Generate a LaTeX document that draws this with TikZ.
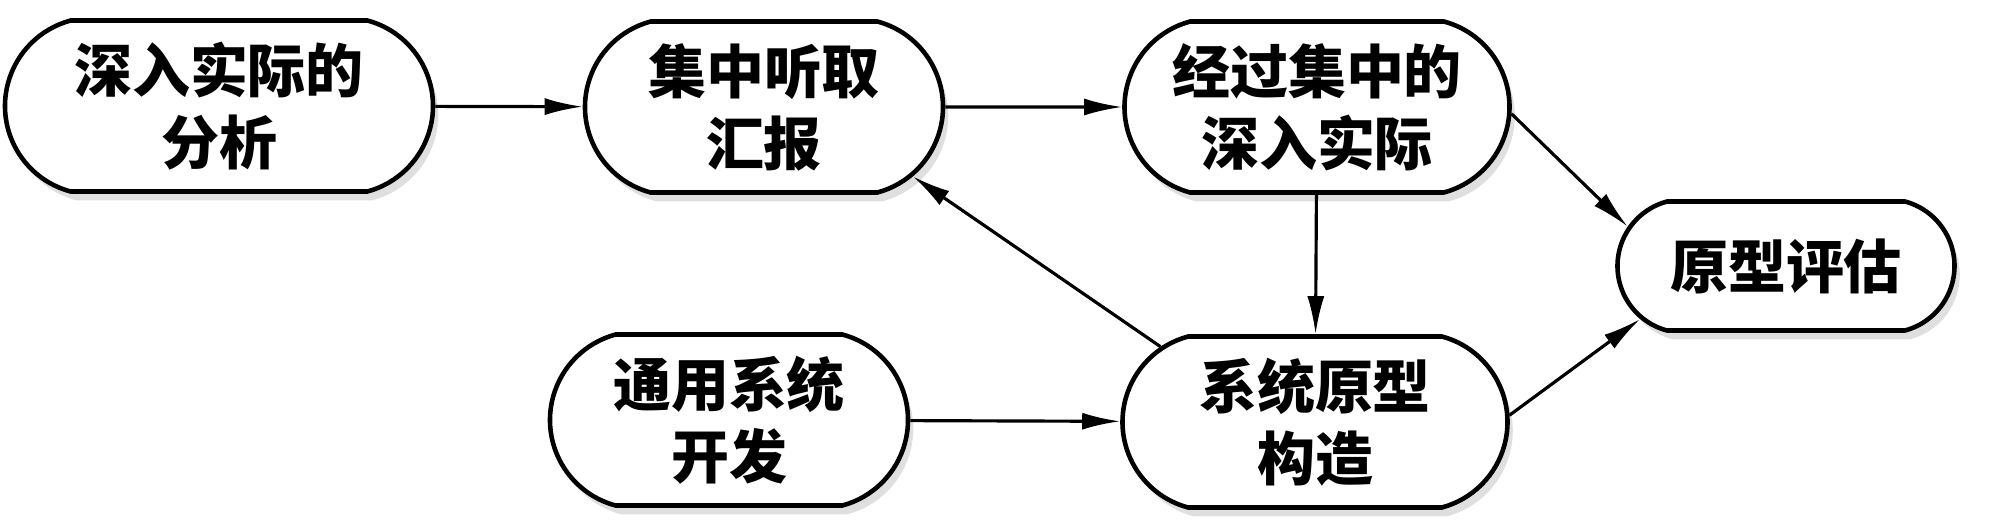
\documentclass[tikz,border=0pt]{standalone}
\usepackage{fontspec}
\setmainfont{Noto Sans CJK SC}
\usetikzlibrary{arrows.meta, shapes.misc, shadows}

\begin{document}
\begin{tikzpicture}[->, >={Latex[length=3.8mm,width=1.7mm]}, line width=0.9pt]
        \tikzstyle{stage}=[rounded rectangle, rounded rectangle arc length=150, draw, line width=1.3pt, fill=white,
            align=center, inner sep=0pt, minimum height=1.71cm, font=\fontsize{16.5}{20.5}\selectfont\bfseries,
            drop shadow={shadow xshift=1.5pt, shadow yshift=-2.5pt, opacity=0.25}]
        \tikzstyle{short stage}=[stage, minimum height=1.29cm]

        \useasboundingbox (0,0) rectangle (20.02,-5.28);

        % Top row of stages
        \node[stage, minimum width=4.28cm] (analyse) at (2.19,-1.06) {深入实际的\\分析};
        \node[stage, minimum width=3.58cm] (report) at (7.64,-1.07) {集中听取\\汇报};
        \node[stage, minimum width=3.85cm] (focus) at (13.17,-1.07) {经过集中的\\深入实际};

        % Bottom row of stages
        \node[stage, minimum width=3.58cm] (general) at (7.29,-4.20) {通用系统\\开发};
        \node[stage, minimum width=3.85cm] (build) at (13.15,-4.22) {系统原型\\构造};

        % Evaluation on the right
        \node[short stage, minimum width=3.37cm] (eval) at (17.86,-2.66) {原型评估};

        % Connect the stages
        \path (analyse) edge (report);
        \path (report) edge (focus);
        \path (general) edge (build);
        \path (focus) edge (build);
        \path (build.154) edge (report.335);
        \path (focus.-2) edge (eval.166);
        \path (build.2) edge (eval.200);
\end{tikzpicture}
\end{document}
